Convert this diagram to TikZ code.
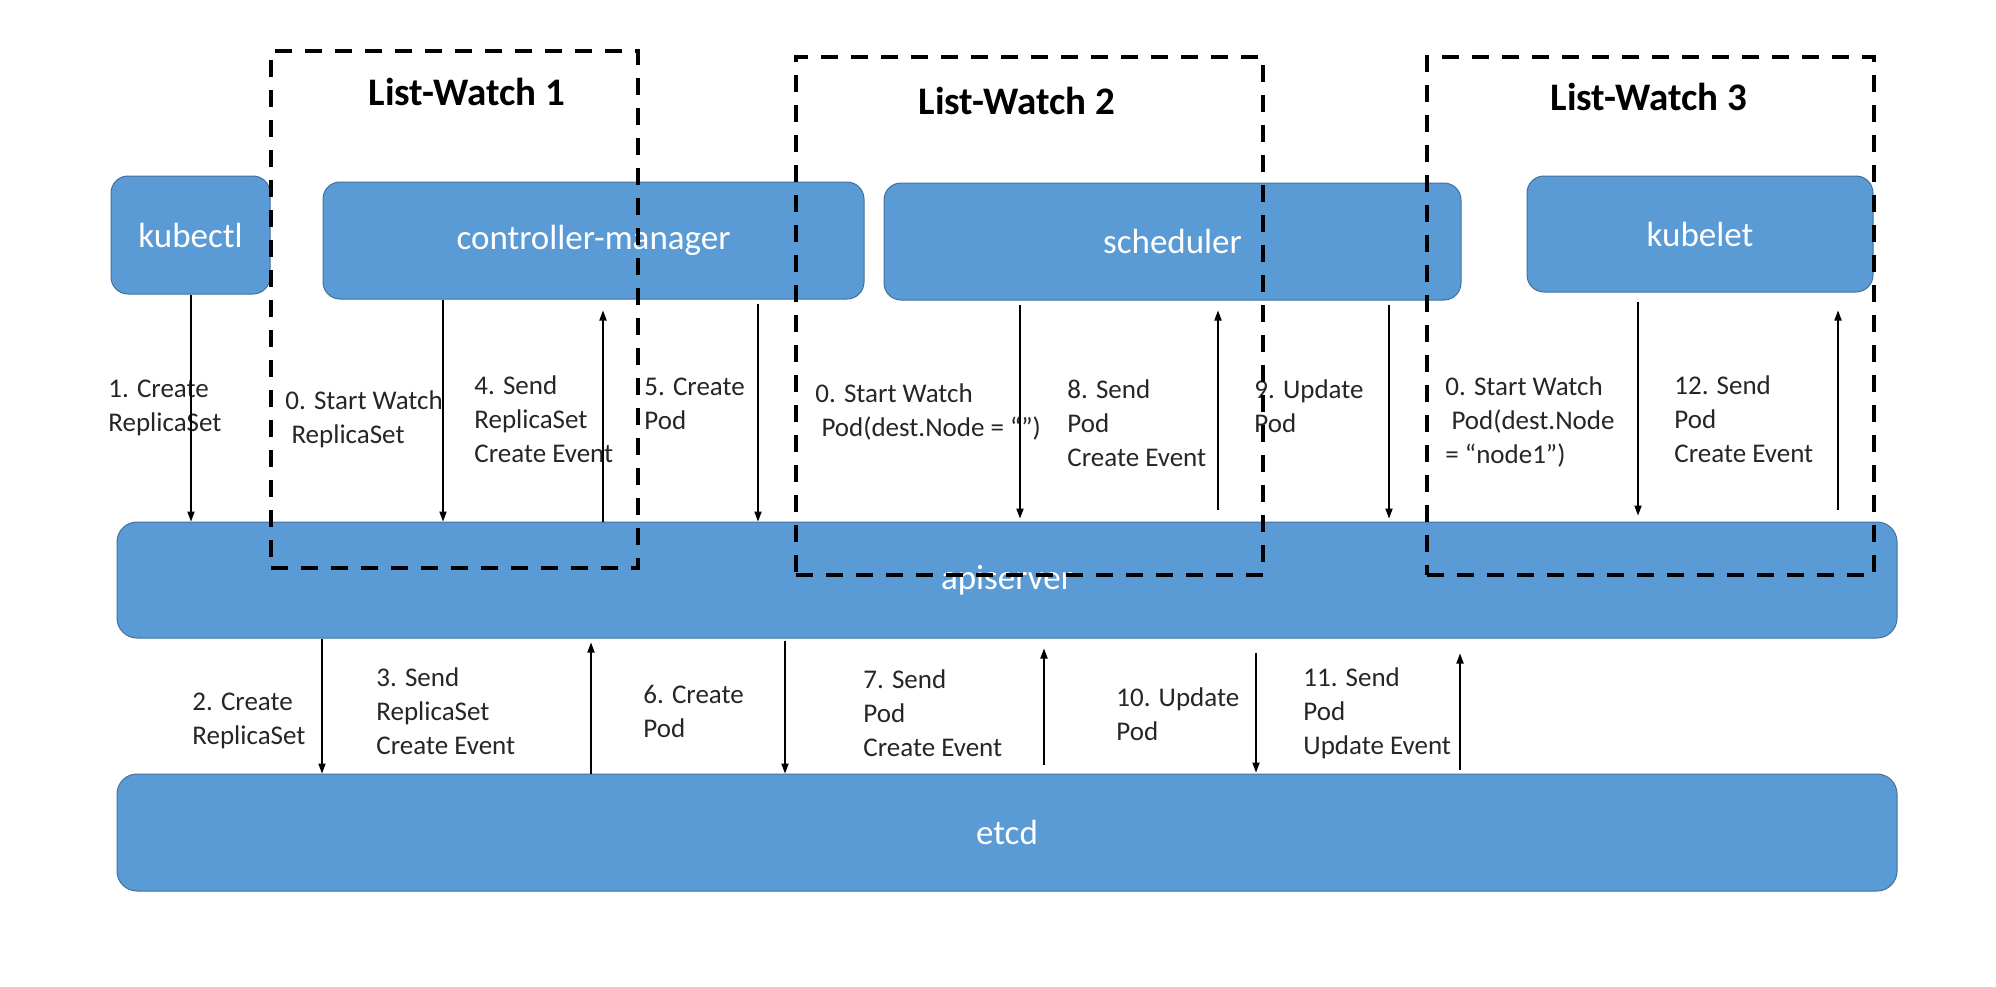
\documentclass[tikz,border=0pt]{standalone}
\usepackage{fontspec}
\setmainfont{Carlito}
\usetikzlibrary{arrows.meta}
\definecolor{boxblue}{HTML}{5B9BD5}
\definecolor{boxedge}{HTML}{41719C}
\definecolor{labelgray}{HTML}{262626}
\tikzset{
  comp/.style={draw=boxedge, line width=0.5pt, fill=boxblue, rounded corners=8.5pt,
    text=white, font=\fontsize{17.5}{21}\selectfont, inner sep=0pt},
  watchbox/.style={draw=black, line width=1.9pt, dash pattern=on 8.5pt off 6.5pt, inner sep=0pt},
  watchtitle/.style={font=\bfseries\fontsize{19.5}{23}\selectfont, text=black},
  lbl/.style={align=left, anchor=west, inner sep=0pt, text=labelgray,
    font=\fontsize{13.5}{17}\selectfont},
  arr/.style={line width=0.6pt, -{Triangle[length=5pt,width=3.6pt]}}
}
\begin{document}
\begin{tikzpicture}[x=0.5pt,y=-0.5pt]
\useasboundingbox (0,0) rectangle (1996,986);
\fill[white] (0,0) rectangle (1996,986);

% components
\node[comp, minimum width=79.5pt, minimum height=59pt] (kubectl) at (190.5,235) {kubectl};
\node[comp, minimum width=270.5pt, minimum height=58.5pt] (cm) at (593.5,240.5) {controller-manager};
\node[comp, minimum width=288.5pt, minimum height=58.5pt] (sched) at (1172.5,241.5) {scheduler};
\node[comp, minimum width=173pt, minimum height=58pt] (kubelet) at (1700,234) {kubelet};
\node[comp, minimum width=890pt, minimum height=58pt, rounded corners=10pt] (api) at (1007,580) {apiserver};
\node[comp, minimum width=890pt, minimum height=58.5pt, rounded corners=10pt] (etcd) at (1007,832.5) {etcd};

% x positions of connectors
\coordinate (xa1) at (191,0);
\coordinate (xa0a) at (443,0);
\coordinate (xa4) at (603,0);
\coordinate (xa5) at (758,0);
\coordinate (xa0b) at (1020,0);
\coordinate (xa8) at (1218,0);
\coordinate (xa9) at (1389,0);
\coordinate (xa0c) at (1638,0);
\coordinate (xa12) at (1838,0);
\coordinate (xb2) at (322,0);
\coordinate (xb3) at (591,0);
\coordinate (xb6) at (785,0);
\coordinate (xb7) at (1044,0);
\coordinate (xb10) at (1256,0);
\coordinate (xb11) at (1460,0);

% upper labels
\node[lbl] (l1) at (108,408) {1. Create\\ReplicaSet};
\node[lbl] (l0a) at (285,419) {0. Start Watch\\ \ ReplicaSet};
\node[lbl] (l4) at (474,419) {4. Send\\ReplicaSet\\Create Event};
\node[lbl] (l5) at (644,404) {5. Create\\Pod};
\node[lbl] (l0b) at (815,412) {0. Start Watch\\ \ Pod(dest.Node = “”)};
\node[lbl] (l8) at (1067,423) {8. Send\\Pod\\Create Event};
\node[lbl] (l9) at (1254,406) {9. Update\\Pod};
\node[lbl] (l0c) at (1445,422) {0. Start Watch\\ \ Pod(dest.Node\\= “node1”)};
\node[lbl] (l12) at (1674,419) {12. Send\\Pod\\Create Event};

% lower labels
\node[lbl] (l2) at (192,721) {2. Create\\ReplicaSet};
\node[lbl] (l3) at (376,711) {3. Send\\ReplicaSet\\Create Event};
\node[lbl] (l6) at (643,711) {6. Create\\Pod};
\node[lbl] (l7) at (863,713) {7. Send\\Pod\\Create Event};
\node[lbl] (l10) at (1116,714) {10. Update\\Pod};
\node[lbl] (l11) at (1303,713) {11. Send\\Pod\\Update Event};

% upper connectors
\draw[arr] (xa1 |- kubectl.south) -- (xa1 |- api.north);
\draw[arr] (xa0a |- cm.south) -- (xa0a |- api.north);
\draw[arr, shorten >=5.5pt] (xa4 |- api.north) -- (xa4 |- cm.south);
\draw[arr, shorten <=2pt] (xa5 |- cm.south) -- (xa5 |- api.north);
\draw[arr, shorten <=2pt, shorten >=1.5pt] (xa0b |- sched.south) -- (xa0b |- api.north);
\draw[arr, shorten <=6pt, shorten >=5pt] (xa8 |- api.north) -- (xa8 |- sched.south);
\draw[arr, shorten <=2pt, shorten >=1.5pt] (xa9 |- sched.south) -- (xa9 |- api.north);
\draw[arr, shorten <=4.5pt, shorten >=3pt] (xa0c |- kubelet.south) -- (xa0c |- api.north);
\draw[arr, shorten <=6pt, shorten >=9pt] (xa12 |- api.north) -- (xa12 |- kubelet.south);

% lower connectors
\draw[arr] (xb2 |- api.south) -- (xb2 |- etcd.north);
\draw[arr, shorten >=2pt] (xb3 |- etcd.north) -- (xb3 |- api.south);
\draw[arr, shorten <=1pt] (xb6 |- api.south) -- (xb6 |- etcd.north);
\draw[arr, shorten <=4.5pt, shorten >=5pt] (xb7 |- etcd.north) -- (xb7 |- api.south);
\draw[arr, shorten <=7pt, shorten >=0.5pt] (xb10 |- api.south) -- (xb10 |- etcd.north);
\draw[arr, shorten <=2pt, shorten >=7.5pt] (xb11 |- etcd.north) -- (xb11 |- api.south);

% list-watch groups
\node[watchbox, minimum width=183.5pt, minimum height=258.5pt] (lw1) at (454.5,309.5) {};
\node[watchbox, minimum width=233.5pt, minimum height=259pt] (lw2) at (1029.5,316) {};
\node[watchbox, minimum width=223.5pt, minimum height=259pt] (lw3) at (1650.5,316) {};
\node[watchtitle] (t1) at (467,92) {List-Watch 1};
\node[watchtitle] (t2) at (1017,101) {List-Watch 2};
\node[watchtitle] (t3) at (1649,97) {List-Watch 3};
\end{tikzpicture}
\end{document}
